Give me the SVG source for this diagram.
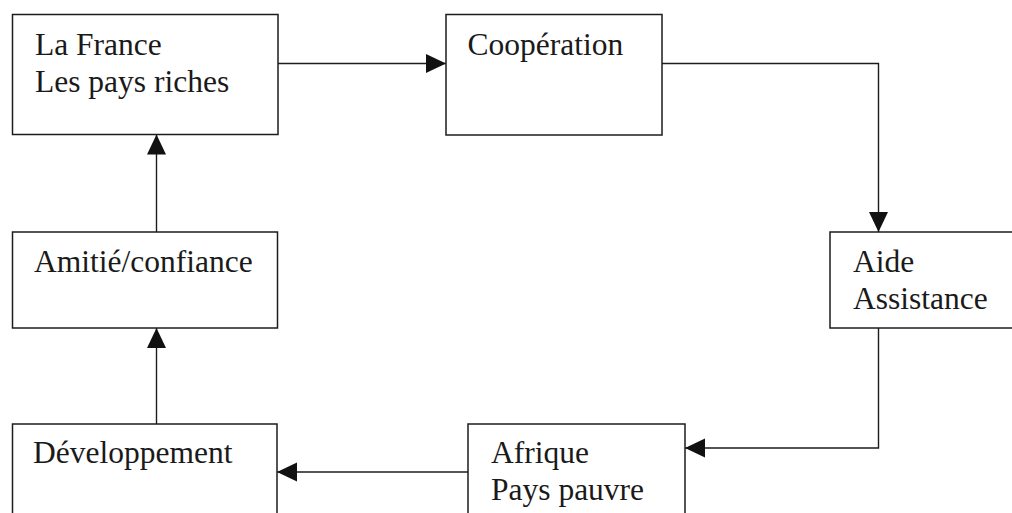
<svg xmlns="http://www.w3.org/2000/svg" width="1012" height="513" viewBox="0 0 1012 513">
<style>
.box{fill:#fff;stroke:#1c1c1c;stroke-width:1.5}
.lbl{font-family:"Liberation Serif","Times New Roman",serif;font-size:31.5px;fill:#1a1a1a}
.con{fill:none;stroke:#1c1c1c;stroke-width:1.4}
</style>
<defs>
<marker id="ah" markerUnits="userSpaceOnUse" markerWidth="20" markerHeight="20" viewBox="0 0 20 20" refX="20" refY="10" orient="auto">
<path d="M0,0.5 L20,10 L0,19.5 Z" fill="#111"/>
</marker>
</defs>
<rect width="1012" height="513" fill="#fff"/>
<g id="connectors">
<path class="con" d="M278,63.5 H446" marker-end="url(#ah)"/>
<path class="con" d="M662,63.5 H878.5 V232" marker-end="url(#ah)"/>
<path class="con" d="M878.5,328 V448 H685" marker-end="url(#ah)"/>
<path class="con" d="M468,472 H277" marker-end="url(#ah)"/>
<path class="con" d="M156.5,424 V328" marker-end="url(#ah)"/>
<path class="con" d="M156.5,232 V134.5" marker-end="url(#ah)"/>
</g>
<g id="node-france">
<rect class="box" x="12.5" y="14.5" width="265.5" height="120"/>
<text class="lbl" x="35" y="55">La France</text>
<text class="lbl" x="35" y="92">Les pays riches</text>
</g>
<g id="node-cooperation">
<rect class="box" x="446" y="14.5" width="216" height="120.5"/>
<text class="lbl" x="467.5" y="55">Coopération</text>
</g>
<g id="node-aide">
<rect class="box" x="830" y="232" width="200" height="96"/>
<text class="lbl" x="853" y="272">Aide</text>
<text class="lbl" x="853" y="309">Assistance</text>
</g>
<g id="node-amitie">
<rect class="box" x="12.5" y="232" width="265" height="96"/>
<text class="lbl" x="34" y="272">Amitié/confiance</text>
</g>
<g id="node-developpement">
<rect class="box" x="12.5" y="424" width="264.5" height="100"/>
<text class="lbl" x="33" y="463">Développement</text>
</g>
<g id="node-afrique">
<rect class="box" x="468" y="424" width="217" height="100"/>
<text class="lbl" x="491" y="463">Afrique</text>
<text class="lbl" x="491" y="500">Pays pauvre</text>
</g>
</svg>
